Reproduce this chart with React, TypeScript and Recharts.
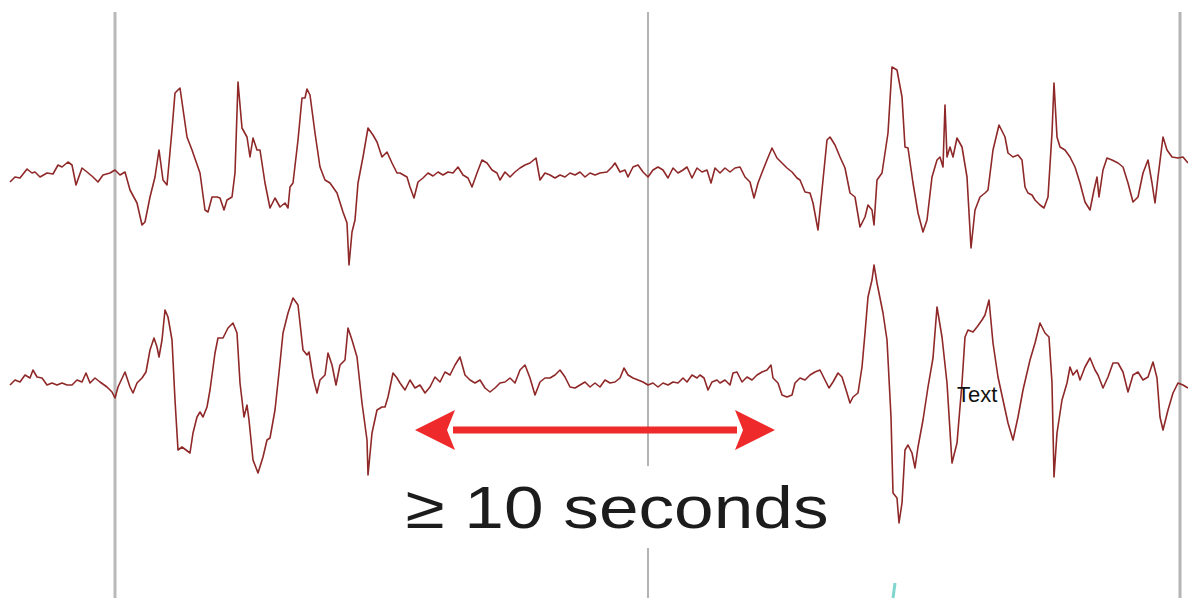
import { LineChart, Line, XAxis, YAxis, ReferenceLine, ReferenceDot } from "recharts";

// sample times for both channels
const ch1Time = [
  10, 15, 20, 27, 32, 35, 40, 47, 53, 58, 62, 68, 72, 76, 82, 87, 93, 98, 103, 110, 115, 120, 125, 130, 137, 142, 145, 150, 155, 159, 163, 167, 172, 175, 180, 187, 192,
  200, 205, 208, 212, 217, 220, 224, 227, 232, 235, 238, 242, 247, 250, 253, 257, 260, 265, 270, 275, 280, 285, 288, 290, 293, 298, 302, 305, 307, 310, 315, 320, 325, 330, 337, 343, 347, 349, 352, 355, 358, 363, 368, 373, 377, 382, 387, 392, 397,
  400, 407, 410, 414, 418, 423, 428, 433, 438, 443, 448, 453, 458, 463, 468, 472, 477, 482, 487, 492, 497, 500, 505, 510, 515, 520, 525, 530, 536, 540, 545, 550, 555, 560, 565, 570, 575, 580, 585, 590, 595,
  600, 607, 612, 615, 620, 625, 628, 633, 638, 643, 648, 653, 658, 663, 668, 673, 678, 683, 687, 692, 697, 702, 707, 711, 715, 720, 725, 730, 735, 740, 745, 750, 754, 758, 763, 767, 772, 777, 782, 787, 792, 797,
  800, 805, 810, 813, 818, 822, 827, 830, 835, 840, 845, 850, 855, 860, 865, 868, 872, 874, 877, 882, 885, 888, 892, 897, 902, 905, 908, 913, 918, 923, 927, 932, 937, 940, 943, 945, 947, 950, 953, 957, 962, 967, 971, 975, 980, 985, 988, 993,
  999, 1005, 1008, 1013, 1018, 1022, 1025, 1028, 1032, 1035, 1040, 1044, 1048, 1052, 1054, 1057, 1060, 1065, 1070, 1075, 1080, 1085, 1090, 1094, 1097, 1099, 1103, 1107, 1112, 1118, 1123, 1128, 1133, 1138, 1143, 1148, 1152, 1155, 1158, 1163, 1167, 1172, 1178, 1183, 1188,
];

// channel 1 amplitude (negative up)
const ch1Values = [
  7, 2, 3, -6, -2, -3, 2, -2, -1, -10, -8, -13, -10, 10, -7, -3, 2, 7, 0, -2, -5, 0, -3, 15, 28, 50, 47, 22, 2, -25, 5, 10, -45, -82, -87, -38, -25,
  -2, 35, 37, 22, 22, 23, 35, 25, 22, -2, -93, -47, -38, -18, -37, -25, -25, 8, 33, 23, 32, 28, 33, 12, 8, -35, -77, -77, -86, -80, -42, -8, 5, 8, 18, 37, 48, 90, 57, 45, 8, -18, -47, -40, -33, -18, -23, -12, -2,
  -2, 2, 12, 23, 7, 3, -2, 1, -3, 0, -3, -2, -8, 0, 3, 12, -2, -15, -12, -5, -2, 5, -3, 2, -3, -7, -10, -12, -17, 5, -2, 0, 3, 0, 2, -2, 0, -3, 2, -2, 0,
  -2, -3, -8, -12, -3, -5, 2, -8, -10, -3, 2, -5, -8, -5, 3, -7, -2, -5, -8, 3, -7, -3, -5, 8, -7, -2, -7, -3, -7, -8, 2, 7, 23, 8, -5, -15, -27, -17, -12, -7, -3, 3,
  5, 17, 18, 28, 55, 15, -35, -38, -30, -18, -7, 18, 22, 52, 42, 30, 35, 50, 5, -2, -22, -42, -108, -105, -78, -28, -27, 8, 38, 57, 45, 2, -15, -18, -8, -70, -18, -28, -18, -37, -28, 2, 73, 35, 22, 18, 15, -25,
  -50, -38, -22, -18, -20, -15, 12, 18, 20, 25, 30, 33, 22, -42, -92, -38, -28, -25, -18, -8, 8, 27, 35, 15, 2, 22, -5, -17, -15, -12, -8, 8, 27, 22, -2, -15, 8, 28, 2, -38, -25, -18, -17, -18, -12,
];

const ch2Time = [
  10, 15, 20, 25, 30, 33, 37, 42, 47, 52, 57, 62, 67, 72, 77, 82, 86, 90, 95, 100, 107, 112, 115, 118, 125, 130, 133, 137, 142, 146, 150, 154, 157, 159, 162, 165, 168, 172, 175, 178, 182, 186, 190, 193, 197,
  200, 203, 207, 210, 215, 218, 223, 228, 233, 237, 240, 244, 247, 249, 253, 258, 263, 267, 270, 275, 280, 283, 288, 293, 298, 303, 307, 309, 313, 317, 320, 325, 328, 332, 336, 340, 345, 348, 352, 357, 362, 367, 368, 372, 377, 382, 385, 388, 393, 397,
  400, 405, 410, 415, 420, 425, 430, 435, 440, 445, 450, 455, 460, 465, 470, 475, 480, 485, 490, 495, 500, 505, 510, 515, 520, 525, 530, 535, 540, 545, 550, 555, 560, 565, 570, 575, 580, 585, 590, 595,
  600, 605, 610, 615, 620, 624, 628, 633, 638, 643, 648, 653, 658, 663, 668, 673, 678, 683, 687, 692, 697, 700, 704, 708, 712, 717, 720, 725, 730, 733, 737, 742, 747, 752, 757, 762, 767, 771, 773, 778, 782, 787, 792, 795,
  800, 805, 810, 815, 820, 825, 829, 833, 838, 842, 847, 850, 853, 858, 862, 865, 868, 872, 874, 877, 880, 883, 887, 891, 893, 897, 899, 902, 905, 908, 912, 915, 918, 923, 928, 933, 937, 942, 947, 952, 957, 962, 965, 968, 973, 977, 982, 985, 989,
  993, 998, 1003, 1008, 1013, 1018, 1023, 1030, 1035, 1040, 1045, 1049, 1052, 1054, 1057, 1062, 1067, 1070, 1073, 1077, 1080, 1085, 1090, 1095, 1098, 1103, 1108, 1113, 1118, 1123, 1128, 1133, 1138, 1143, 1148, 1153, 1157, 1160, 1163, 1168, 1173, 1178, 1183, 1188,
];

// channel 2 amplitude (negative up)
const ch2Values = [
  5, 0, 2, -5, -2, -10, -3, -2, 5, 3, 5, 3, 5, 5, 0, 2, -7, 3, -2, 2, 7, 12, 18, 7, -8, 7, 13, 3, -2, -8, -30, -42, -33, -23, -40, -70, -63, -40, 20, 70, 67, 70, 73, 53, 37,
  32, 37, 27, 10, -27, -42, -42, -52, -57, -47, 3, 37, 25, 40, 80, 93, 77, 60, 58, 30, -17, -47, -67, -82, -75, -30, -25, -28, -3, 13, 0, -5, -27, -15, 5, -15, -20, -52, -40, -23, 23, 60, 95, 53, 30, 27, 27, 17, -7, -2,
  3, 10, 0, 8, 5, 13, 7, -3, 2, -8, -5, -15, -23, -5, 0, 3, 0, 8, 12, 8, 3, 2, -2, 3, -10, -15, -2, 15, 2, -2, -2, -5, -10, -3, 7, 8, 5, 2, 7, 3,
  7, 0, 3, 2, -2, -12, -5, -2, 0, 2, 5, 3, 7, 3, 5, 2, 3, -2, 2, -5, -2, -5, -2, 10, 2, 0, 3, 0, 5, -7, -8, 2, -3, 0, -5, -8, -10, -15, -2, 3, 15, 17, 15, 3,
  -2, 0, -5, -8, -10, 0, 8, 2, -7, -3, 13, 23, 17, 13, -13, -47, -83, -100, -115, -97, -82, -67, -40, 37, 113, 118, 143, 123, 70, 65, 73, 88, 67, 40, 7, -22, -73, -43, 3, 83, 63, 3, -43, -50, -48, -53, -60, -65, -80,
  -37, -3, 20, 43, 60, 37, 10, -20, -37, -57, -47, -43, 3, 97, 53, 20, 3, -13, -5, -10, 0, -13, -22, -10, -5, 8, -3, -17, -17, -8, 12, -5, -8, 0, -3, -18, -2, 37, 50, 30, 13, 3, 5, 8,
];

// epoch markers and the annotated span
const epochMarks = [115, 648, 1180];
const spanStart = 415;
const spanEnd = 775;
const spanLabel = "≥ 10 seconds";
const noteLabel = "Text";

const ch1Data = ch1Time.map((t, i) => ({ t, v: ch1Values[i] }));
const ch2Data = ch2Time.map((t, i) => ({ t, v: ch2Values[i] }));

const TRACE = "#8f2828";
const FONT = "'Liberation Sans', Arial, Helvetica, sans-serif";

const DoubleArrow = (props: any) => {
  const { x1, y1, x2 } = props;
  const head = 40;
  const half = 20;
  const shaft = 3.5;
  return (
    <g fill="#ee2a2a">
      <rect x={x1 + head - 2} y={y1 - shaft} width={x2 - x1 - 2 * head + 4} height={shaft * 2} />
      <polygon points={`${x1},${y1} ${x1 + head},${y1 - half} ${x1 + head - 8},${y1} ${x1 + head},${y1 + half}`} />
      <polygon points={`${x2},${y1} ${x2 - head},${y1 - half} ${x2 - head + 8},${y1} ${x2 - head},${y1 + half}`} />
    </g>
  );
};

const SpanLabel = (props: any) => (
  <text x={props.cx} y={props.cy} textAnchor="middle" fontFamily={FONT} fontSize={60} fill="#1c1c1c"
    textLength={423} lengthAdjust="spacingAndGlyphs">
    {spanLabel}
  </text>
);

const NoteLabel = (props: any) => (
  <text x={props.cx} y={props.cy} fontFamily={FONT} fontSize={22} fill="#111">
    {noteLabel}
  </text>
);

export default function App() {
  return (
    <div style={{ position: "absolute", left: 0, top: 0, width: 1188, height: 605, background: "#fff" }}>
      <LineChart width={1188} height={605} margin={{ top: 0, right: 0, bottom: 0, left: 0 }}>
        <XAxis dataKey="t" type="number" domain={[0, 1188]} allowDataOverflow hide />
        <YAxis yAxisId="ch1" type="number" domain={[-175, 430]} reversed allowDataOverflow hide />
        <YAxis yAxisId="ch2" type="number" domain={[-380, 225]} reversed allowDataOverflow hide />

        <ReferenceLine yAxisId="ch1" stroke="#b9b9b9" strokeWidth={3}
          segment={[{ x: epochMarks[0], y: -163 }, { x: epochMarks[0], y: 423 }]} />
        <ReferenceLine yAxisId="ch1" stroke="#9a9a9a" strokeWidth={1.5}
          segment={[{ x: epochMarks[1], y: -163 }, { x: epochMarks[1], y: 291 }]} />
        <ReferenceLine yAxisId="ch1" stroke="#9a9a9a" strokeWidth={1.5}
          segment={[{ x: epochMarks[1], y: 373 }, { x: epochMarks[1], y: 423 }]} />
        <ReferenceLine yAxisId="ch1" stroke="#b4b4b4" strokeWidth={3}
          segment={[{ x: epochMarks[2], y: -163 }, { x: epochMarks[2], y: 423 }]} />
        <ReferenceLine yAxisId="ch1" stroke="#7fd6cf" strokeWidth={3}
          segment={[{ x: 893, y: 423 }, { x: 895, y: 408 }]} />

        <Line data={ch1Data} yAxisId="ch1" dataKey="v" type="linear" stroke={TRACE} strokeWidth={1.6}
          strokeLinejoin="round" dot={false} activeDot={false} isAnimationActive={false} />
        <Line data={ch2Data} yAxisId="ch2" dataKey="v" type="linear" stroke={TRACE} strokeWidth={1.6}
          strokeLinejoin="round" dot={false} activeDot={false} isAnimationActive={false} />

        <ReferenceLine yAxisId="ch2" segment={[{ x: spanStart, y: 50 }, { x: spanEnd, y: 50 }]}
          shape={(p: any) => <DoubleArrow {...p} />} />
        <ReferenceDot yAxisId="ch2" x={617} y={148} r={0} shape={(p: any) => <SpanLabel {...p} />} />
        <ReferenceDot yAxisId="ch2" x={957} y={22} r={0} shape={(p: any) => <NoteLabel {...p} />} />
      </LineChart>
    </div>
  );
}
